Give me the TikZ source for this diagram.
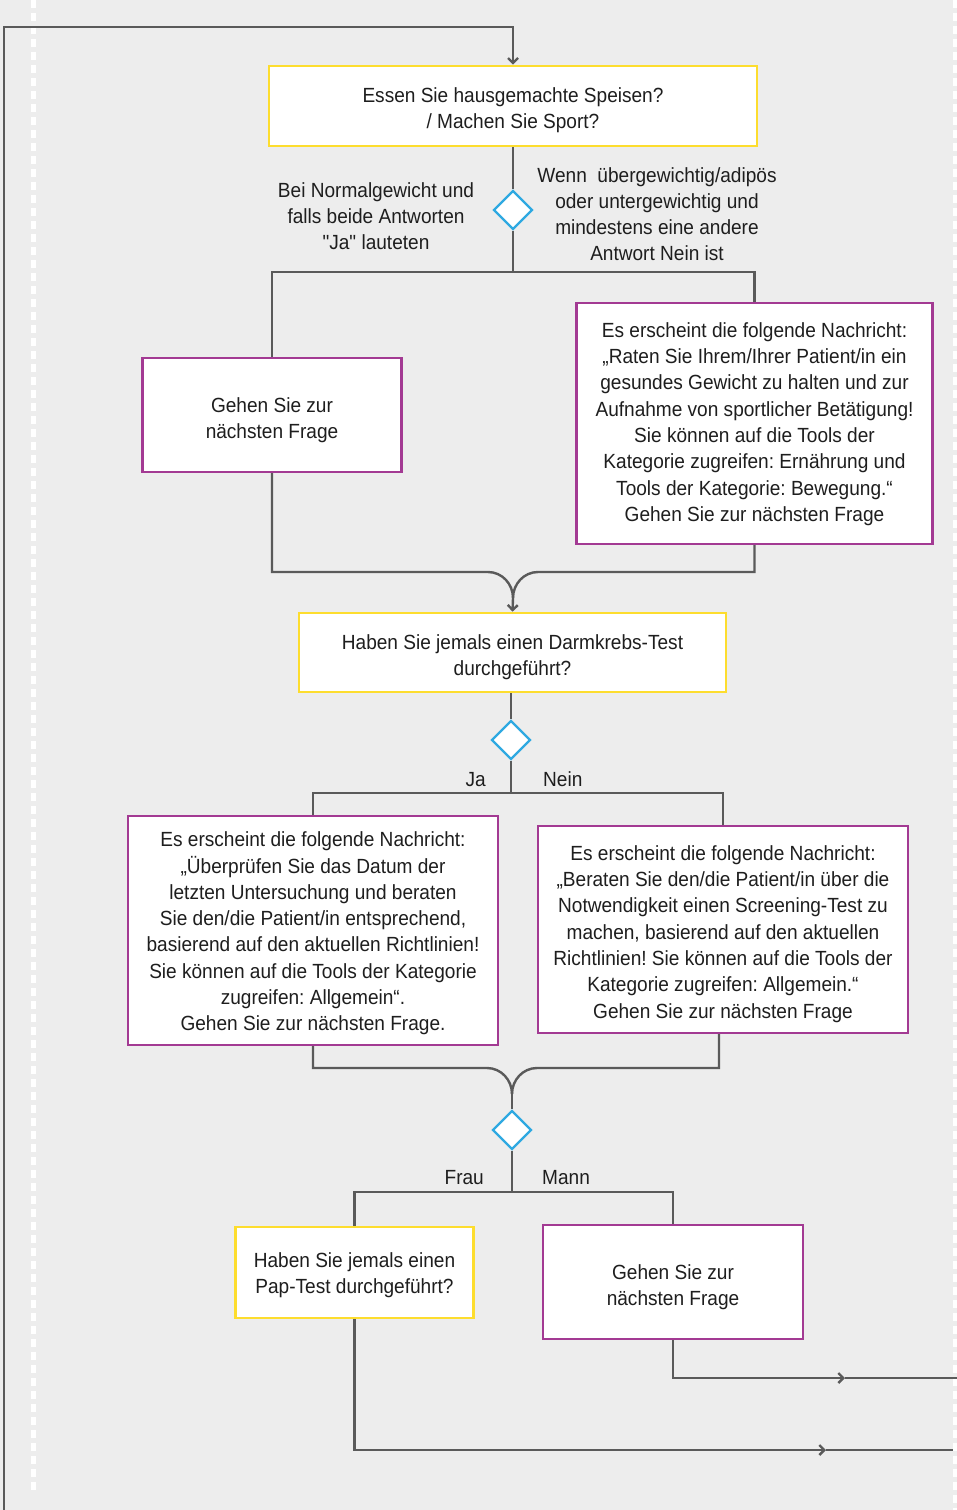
\documentclass[tikz,border=0pt]{standalone}
\usepackage{fontspec}
\newfontfamily\flowfont[FakeStretch=0.93]{Liberation Sans}
\usetikzlibrary{arrows.meta,shapes.geometric}
\frenchspacing

\definecolor{bgc}{HTML}{EDEDED}
\definecolor{qyellow}{HTML}{FDDD2E}
\definecolor{mpurple}{HTML}{A33A93}
\definecolor{dblue}{HTML}{2FA9E1}
\definecolor{wire}{HTML}{5A5A5A}
\definecolor{ink}{HTML}{1E1E1E}

% centred block of lines, lowered by #1 without changing its box
\newcommand{\boxtext}[2]{\raisebox{-#1}[\height][\depth]{\begin{tabular}{@{}c@{}}#2\end{tabular}}}

\tikzset{
  every node/.style={text=ink, font=\flowfont\fontsize{20.5}{26.3}\selectfont},
  qbox/.style={draw=qyellow, line width=2.6pt, fill=white, inner sep=0pt},
  mbox/.style={draw=mpurple, line width=2.4pt, fill=white, inner sep=0pt},
  gate/.style={diamond, draw=dblue, line width=2.4pt, fill=white, inner sep=0pt, minimum width=39pt, minimum height=39pt},
  lbl/.style={align=center, inner sep=0pt, font=\flowfont\fontsize{20.5}{26}\selectfont},
  wireline/.style={draw=wire, line width=2.4pt},
  arr/.style={wireline, -{Straight Barb[length=5pt,width=10pt]}},
  guide/.style={draw=white, line width=5pt, dash pattern=on 8pt off 5pt}
}

\begin{document}
\begin{tikzpicture}[x=1pt, y=-1pt]
  % canvas
  \useasboundingbox (0,0) rectangle (957,1510);
  \fill[bgc] (0,0) rectangle (957,1510);
  \draw[guide] (33,0) -- (33,1492);
  \draw[guide] (955,0) -- (955,1510);

  % questions and messages
  \node[qbox, minimum width=488pt, minimum height=80pt] (b1) at (513,106)
    {\boxtext{4pt}{Essen Sie hausgemachte Speisen?\\/ Machen Sie Sport?}};
  \node[mbox, minimum width=259pt, minimum height=114pt] (b2) at (272,415)
    {\boxtext{5pt}{Gehen Sie zur\\nächsten Frage}};
  \node[mbox, minimum width=356pt, minimum height=241pt] (b3) at (754.5,423.5)
    {\boxtext{0.5pt}{Es erscheint die folgende Nachricht:\\
     „Raten Sie Ihrem/Ihrer Patient/in ein\\
     gesundes Gewicht zu halten und zur\\
     Aufnahme von sportlicher Betätigung!\\
     Sie können auf die Tools der\\
     Kategorie zugreifen: Ernährung und\\
     Tools der Kategorie: Bewegung.“\\
     Gehen Sie zur nächsten Frage}};
  \node[qbox, minimum width=427pt, minimum height=79pt] (b4) at (512.5,652.5)
    {\boxtext{4.5pt}{Haben Sie jemals einen Darmkrebs-Test\\durchgeführt?}};
  \node[mbox, minimum width=370pt, minimum height=229pt] (b5) at (313,930.5)
    {\boxtext{3pt}{Es erscheint die folgende Nachricht:\\
     „Überprüfen Sie das Datum der\\
     letzten Untersuchung und beraten\\
     Sie den/die Patient/in entsprechend,\\
     basierend auf den aktuellen Richtlinien!\\
     Sie können auf die Tools der Kategorie\\
     zugreifen: Allgemein“.\\
     Gehen Sie zur nächsten Frage.}};
  \node[mbox, minimum width=370pt, minimum height=207pt] (b6) at (723,929.5)
    {\boxtext{4.5pt}{Es erscheint die folgende Nachricht:\\
     „Beraten Sie den/die Patient/in über die\\
     Notwendigkeit einen Screening-Test zu\\
     machen, basierend auf den aktuellen\\
     Richtlinien! Sie können auf die Tools der\\
     Kategorie zugreifen: Allgemein.“\\
     Gehen Sie zur nächsten Frage}};
  \node[qbox, minimum width=238pt, minimum height=91pt] (b7) at (354.5,1272.5)
    {\boxtext{2.5pt}{Haben Sie jemals einen\\Pap-Test durchgeführt?}};
  \node[mbox, minimum width=260pt, minimum height=114pt] (b8) at (673,1282)
    {\boxtext{5pt}{Gehen Sie zur\\nächsten Frage}};

  % decision points
  \node[gate] (d1) at (513,210) {};
  \node[gate] (d2) at (511,740) {};
  \node[gate] (d3) at (512,1130) {};

  % branch labels
  \node[lbl] (l1) at (376,216) {Bei Normalgewicht und\\falls beide Antworten\\"Ja" lauteten};
  \node[lbl] (l2) at (657,214.5) {Wenn~ übergewichtig/adipös\\oder untergewichtig und\\mindestens eine andere\\Antwort Nein ist};
  \node[lbl, anchor=east] (lja) at (486,779.5) {Ja};
  \node[lbl, anchor=west] (lnein) at (543,779.5) {Nein};
  \node[lbl, anchor=east] (lfrau) at (484,1177.5) {Frau};
  \node[lbl, anchor=west] (lmann) at (542,1177.5) {Mann};

  % junction points
  \coordinate (s1) at (513,272);
  \coordinate (s2) at (511,793);
  \coordinate (s3) at (512,1192);
  \coordinate (ml1) at (488,572);
  \coordinate (mr1) at (538,572);
  \coordinate (m1) at (513,598);
  \coordinate (ml2) at (487,1068);
  \coordinate (mr2) at (537,1068);
  \coordinate (m2) at (512,1094);
  \coordinate (lb) at (4,1512);
  \coordinate (lt) at (4,27);
  \coordinate (a8) at (845,1378);
  \coordinate (e8) at (959,1378);
  \coordinate (a7) at (826,1450);
  \coordinate (e7) at (953,1450);

  % first question
  \draw[wireline] (b1.south) -- (d1.north);
  \draw[wireline] (d1.south) -- (s1);
  \draw[wireline] (b2.north) |- (s1) -| (b3.north);
  \draw[wireline] (b2.south) |- (ml1) to[out=0,in=90] (m1);
  \draw[wireline] (b3.south) |- (mr1) to[out=180,in=90] (m1);
  \draw[arr] (m1) -- (b4.north);

  % second question
  \draw[wireline] (d2.north |- b4.south) -- (d2.north);
  \draw[wireline] (d2.south) -- (s2);
  \draw[wireline] (b5.north) |- (s2) -| (b6.north);
  \draw[wireline] (b5.south) |- (ml2) to[out=0,in=90] (m2);
  \draw[wireline] (b6.south) ++(-4,0) |- (mr2) to[out=180,in=90] (m2);
  \draw[wireline] (m2) -- (d3.north);

  % gender split
  \draw[wireline] (d3.south) -- (s3);
  \draw[wireline] (b7.north) |- (s3) -| (b8.north);

  % outgoing flows
  \draw[arr] (b8.south) |- (a8);
  \draw[wireline] (a8) -- (e8);
  \draw[arr] (b7.south) |- (a7);
  \draw[wireline] (a7) -- (e7);

  % incoming loop
  \draw[arr] (lb) -- (lt) -| (b1.north);
\end{tikzpicture}
\end{document}
